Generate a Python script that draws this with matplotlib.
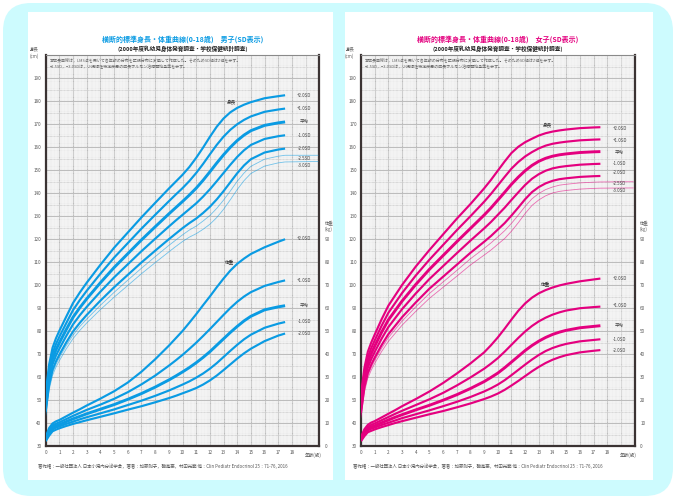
import matplotlib
matplotlib.use("Agg")
import matplotlib.pyplot as plt
from matplotlib.patches import FancyBboxPatch, Rectangle
from matplotlib.transforms import IdentityTransform

plt.rcParams['font.family'] = ['Noto Sans CJK JP', 'DejaVu Sans']

# ages (years) for all curves
ages = [0, 0.25, 0.5, 0.75, 1, 1.5, 2, 2.5, 3, 4, 5, 6, 7, 8, 9, 9.5, 10, 10.5, 11, 11.5, 12, 12.5,
        13, 13.5, 14, 14.5, 15, 16, 17, 17.5]
thin_ages = ages + [19.9]

# boys height (cm)
boy_h_p2 = [53.0, 65.4, 72.7, 76.8, 80.1, 86.2, 92.2, 96.8, 101.0, 108.8, 116.2, 122.8, 129.4, 135.7, 141.9, 144.9, 147.9, 151.3, 155.3, 159.7, 164.4, 168.8, 172.4, 175.1, 177.0, 178.4, 179.5, 181.2, 182.1, 182.5]
boy_h_p1 = [51.0, 63.2, 70.3, 74.3, 77.5, 83.4, 89.1, 93.5, 97.5, 104.9, 111.9, 118.2, 124.5, 130.5, 136.4, 139.3, 142.1, 145.2, 148.7, 152.6, 156.8, 160.9, 164.5, 167.5, 169.9, 171.8, 173.3, 175.3, 176.3, 176.7]
boy_h_0 = [49.0, 61.0, 67.9, 71.8, 74.9, 80.6, 86.0, 90.2, 94.0, 101.0, 107.6, 113.6, 119.6, 125.3, 130.9, 133.6, 136.3, 139.1, 142.1, 145.5, 149.2, 153.0, 156.6, 159.9, 162.8, 165.2, 167.1, 169.4, 170.5, 170.9]
boy_h_m1 = [47.0, 58.8, 65.5, 69.3, 72.3, 77.8, 82.9, 86.9, 90.5, 97.1, 103.3, 109.0, 114.7, 120.1, 125.4, 128.0, 130.5, 133.0, 135.5, 138.4, 141.6, 145.1, 148.7, 152.3, 155.7, 158.6, 160.9, 163.5, 164.7, 165.1]
boy_h_m2 = [45.0, 56.6, 63.1, 66.8, 69.7, 75.0, 79.8, 83.6, 87.0, 93.2, 99.0, 104.4, 109.8, 114.9, 119.9, 122.3, 124.7, 126.9, 128.9, 131.3, 134.0, 137.2, 140.8, 144.7, 148.6, 152.0, 154.7, 157.6, 158.9, 159.3]
boy_h_m25 = [44.0, 55.5, 61.9, 65.5, 68.4, 73.6, 78.2, 82.0, 85.2, 91.2, 96.8, 102.1, 107.3, 112.3, 117.2, 119.5, 121.8, 123.9, 125.6, 127.8, 130.2, 133.3, 136.9, 140.9, 145.1, 148.7, 151.6, 154.7, 156.0, 156.4, 156.4]
boy_h_m3 = [43.0, 54.4, 60.7, 64.3, 67.1, 72.2, 76.7, 80.3, 83.5, 89.3, 94.7, 99.8, 104.9, 109.7, 114.4, 116.7, 118.9, 120.8, 122.3, 124.2, 126.4, 129.3, 132.9, 137.1, 141.5, 145.4, 148.5, 151.7, 153.1, 153.5, 153.7]

# boys weight (kg)
boy_w_p2 = [4.0, 7.8, 9.8, 10.7, 11.3, 12.9, 14.5, 16.0, 17.6, 20.6, 23.8, 27.6, 32.3, 37.7, 43.6, 46.8, 50.0, 53.6, 57.3, 61.2, 65.0, 69.0, 72.8, 76.3, 79.2, 81.5, 83.5, 86.4, 88.8, 89.9]
boy_w_p1 = [3.5, 7.0, 8.9, 9.7, 10.3, 11.7, 13.1, 14.4, 15.7, 18.0, 20.5, 23.4, 26.8, 30.6, 34.9, 37.2, 39.6, 42.2, 44.9, 47.8, 50.8, 53.9, 57.0, 60.0, 62.7, 65.0, 66.9, 69.6, 71.3, 72.0]
boy_w_0 = [3.0, 6.2, 8.0, 8.8, 9.3, 10.6, 11.8, 12.9, 14.0, 16.0, 18.0, 20.3, 22.8, 25.6, 28.7, 30.4, 32.2, 34.1, 36.2, 38.5, 41.0, 43.8, 46.6, 49.4, 52.0, 54.4, 56.4, 59.2, 60.5, 61.0]
boy_w_m1 = [2.5, 5.3, 7.2, 8.0, 8.5, 9.6, 10.6, 11.6, 12.5, 14.2, 15.9, 17.8, 19.7, 21.8, 24.1, 25.4, 26.7, 28.1, 29.7, 31.5, 33.6, 36.0, 38.7, 41.4, 44.0, 46.4, 48.4, 51.4, 53.2, 53.9]
boy_w_m2 = [2.1, 4.5, 6.4, 7.1, 7.7, 8.7, 9.6, 10.4, 11.2, 12.7, 14.2, 15.8, 17.3, 19.0, 20.8, 21.8, 22.9, 24.0, 25.2, 26.7, 28.5, 30.6, 33.0, 35.5, 38.0, 40.3, 42.3, 45.6, 48.0, 48.9]

# girls height (cm)
girl_h_p2 = [52.5, 64.0, 71.0, 75.0, 78.4, 85.0, 91.0, 95.5, 100.0, 108.0, 115.2, 122.0, 128.8, 135.2, 142.0, 145.7, 149.7, 153.7, 157.4, 160.1, 162.1, 163.6, 165.0, 166.0, 166.7, 167.2, 167.6, 168.2, 168.5, 168.6]
girl_h_p1 = [50.5, 61.9, 68.7, 72.6, 75.9, 82.2, 87.9, 92.2, 96.5, 104.1, 111.0, 117.4, 123.8, 129.9, 136.2, 139.6, 143.3, 147.0, 150.6, 153.5, 155.9, 157.8, 159.4, 160.6, 161.4, 161.9, 162.3, 162.9, 163.2, 163.3]
girl_h_0 = [48.5, 59.8, 66.4, 70.2, 73.4, 79.4, 84.8, 88.9, 93.0, 100.2, 106.8, 112.8, 118.8, 124.6, 130.4, 133.5, 136.9, 140.3, 143.8, 146.9, 149.7, 152.0, 153.8, 155.1, 156.0, 156.6, 157.0, 157.6, 157.9, 158.0]
girl_h_m1 = [46.5, 57.7, 64.1, 67.8, 70.9, 76.6, 81.7, 85.6, 89.5, 96.3, 102.6, 108.2, 113.8, 119.3, 124.6, 127.4, 130.5, 133.6, 137.0, 140.3, 143.5, 146.2, 148.2, 149.7, 150.7, 151.3, 151.7, 152.3, 152.6, 152.7]
girl_h_m2 = [44.5, 55.6, 61.8, 65.4, 68.4, 73.8, 78.6, 82.3, 86.0, 92.4, 98.4, 103.6, 108.8, 114.0, 118.8, 121.3, 124.1, 126.9, 130.2, 133.7, 137.3, 140.4, 142.6, 144.2, 145.3, 146.0, 146.4, 147.0, 147.3, 147.4]
girl_h_m25 = [43.5, 54.6, 60.7, 64.2, 67.2, 72.4, 77.1, 80.7, 84.3, 90.5, 96.3, 101.3, 106.3, 111.4, 115.9, 118.3, 120.9, 123.6, 126.8, 130.4, 134.2, 137.5, 139.8, 141.5, 142.6, 143.4, 143.8, 144.4, 144.7, 144.8, 144.9]
girl_h_m3 = [42.5, 53.5, 59.5, 63.0, 65.9, 71.0, 75.5, 79.0, 82.5, 88.5, 94.2, 99.0, 103.8, 108.7, 113.0, 115.2, 117.7, 120.2, 123.4, 127.1, 131.1, 134.6, 137.0, 138.8, 140.0, 140.7, 141.1, 141.7, 142.0, 142.1, 142.2]

# girls weight (kg)
girl_w_p2 = [3.9, 7.3, 9.2, 10.2, 10.8, 12.4, 14.0, 15.6, 17.3, 20.4, 23.7, 27.4, 31.5, 35.9, 40.7, 43.8, 47.2, 51.0, 55.0, 58.8, 62.0, 64.5, 66.4, 67.8, 68.9, 69.8, 70.5, 71.6, 72.4, 72.8]
girl_w_p1 = [3.4, 6.6, 8.4, 9.2, 9.8, 11.2, 12.6, 14.0, 15.3, 17.8, 20.3, 23.1, 26.3, 29.8, 33.6, 35.8, 38.2, 41.0, 44.0, 47.0, 49.8, 52.2, 54.2, 55.8, 57.1, 58.1, 58.9, 59.9, 60.4, 60.6]
girl_w_0 = [3.0, 5.8, 7.5, 8.3, 8.8, 10.1, 11.3, 12.5, 13.6, 15.7, 17.7, 19.9, 22.3, 25.0, 28.0, 29.8, 31.7, 34.0, 36.5, 39.0, 41.5, 43.7, 45.6, 47.2, 48.5, 49.5, 50.3, 51.4, 52.0, 52.3]
girl_w_m1 = [2.5, 5.0, 6.8, 7.5, 8.0, 9.1, 10.1, 11.1, 12.1, 13.8, 15.5, 17.3, 19.2, 21.3, 23.7, 25.1, 26.7, 28.6, 30.8, 33.1, 35.4, 37.6, 39.6, 41.3, 42.6, 43.6, 44.4, 45.5, 46.1, 46.4]
girl_w_m2 = [2.1, 4.3, 6.0, 6.6, 7.2, 8.2, 9.1, 10.0, 10.8, 12.3, 13.8, 15.2, 16.8, 18.5, 20.4, 21.5, 22.8, 24.4, 26.3, 28.3, 30.4, 32.5, 34.4, 36.1, 37.5, 38.6, 39.5, 40.7, 41.4, 41.7]

sd_names = ['+2.0SD', '+1.0SD', '平均', '-1.0SD', '-2.0SD']
boy_h_lab = [182.6, 176.8, 171.3, 165.2, 159.4, 155.0, 152.0]
boy_w_lab = [90.4, 71.9, 60.9, 54.2, 48.7]
girl_h_lab = [168.2, 162.9, 157.7, 152.9, 148.8, 144.3, 141.0]
girl_w_lab = [72.9, 61.0, 52.2, 46.4, 41.7]

W, H = 676, 499
fig = plt.figure(figsize=(W / 100, H / 100), dpi=100)
fig.patch.set_facecolor('white')

# rounded cyan background and white panels (pixel coords, origin bottom-left)
fig.patches.append(FancyBboxPatch((3, 3), W - 6, H - 6, boxstyle='round,pad=0,rounding_size=28',
                                  transform=IdentityTransform(), facecolor='#cdfbfe', edgecolor='none', zorder=-10))
for x0, x1 in [(28, 333), (345, 653)]:
    fig.patches.append(Rectangle((x0, H - 480), x1 - x0, 468, transform=IdentityTransform(),
                                 facecolor='white', edgecolor='none', zorder=-9))


def panel(x0, color, title, hcurves, thin, wcurves, hlab, wlab, hpos, wpos):
    ytop, ybot = 55, 446
    ax = fig.add_axes([x0 / W, 1 - ybot / H, 273.6 / W, (ybot - ytop) / H])
    ax.set_xlim(0, 20)
    ax.set_ylim(30, 200)
    ax.set_facecolor('#ececec')
    ax.set_xticks(range(0, 19))
    ax.set_yticks(range(30, 200, 10))
    ax.set_xticks([i * 0.25 for i in range(81)], minor=True)
    ax.set_yticks(range(30, 201), minor=True)
    ax.grid(which='minor', color='white', lw=0.35)
    ax.grid(which='major', color='#bcbcbc', lw=0.7)
    ax.set_axisbelow(True)
    # the grid also needs 5 cm and 19-20 year lines
    for y in range(35, 200, 10):
        ax.axhline(y, color='#c8c8c8', lw=0.6, zorder=0.5)
    for x in [19, 20]:
        ax.axvline(x, color='#bcbcbc', lw=0.7, zorder=0.5)
    ax.tick_params(which='both', length=0, labelsize=3.3, labelcolor='#555555', pad=3)
    for s in ['left', 'bottom', 'right']:
        ax.spines[s].set_color('#3b3333')
        ax.spines[s].set_linewidth(1.6)
    ax.spines['top'].set_color('#8a8a8a')
    ax.spines['top'].set_linewidth(0.8)

    ax2 = ax.twinx()
    ax2.set_ylim(0, 170)
    ax2.set_yticks(range(0, 100, 10))
    ax2.tick_params(length=0, labelsize=3.3, labelcolor='#555555', pad=4)
    for s in ax2.spines.values():
        s.set_visible(False)

    for i, c in enumerate(hcurves):
        ax.plot(ages, c, color=color, lw=2.1 if i == 2 else 1.55, solid_capstyle='butt',
                solid_joinstyle='round', zorder=3)
    for c in thin:
        ax.plot(thin_ages, c, color=color, lw=0.6, alpha=0.55, zorder=3)
    for i, c in enumerate(wcurves):
        ax2.plot(ages, c, color=color, lw=2.1 if i == 2 else 1.55, solid_capstyle='butt',
                 solid_joinstyle='round', zorder=3)

    names = sd_names + ['-2.5SD', '-3.0SD']
    for name, y in zip(names, hlab):
        ax.text(18.9, y, name, fontsize=3.2, ha='center', va='center', color='#444444')
    for name, y in zip(sd_names, wlab):
        ax2.text(18.9, y, name, fontsize=3.2, ha='center', va='center', color='#444444')
    ax.text(hpos[0], hpos[1], '身長', fontsize=3.3, ha='center', va='center', color='#333333')
    ax2.text(wpos[0], wpos[1], '体重', fontsize=3.3, ha='center', va='center', color='#333333')

    ax.text(0.3, 198.5, '本成長曲線は，LMS法を用いて各年齢の分布を正規分布に変換して作成した。そのためSD値はZ値を示す。\n'
            '−2.5SD，−3.0SDは，小児慢性特定疾患の成長ホルモン治療開始基準を示す。',
            fontsize=2.9, ha='left', va='top', color='#666666', linespacing=1.3)
    ax.text(-0.5, 201, '身長\n(cm)', fontsize=3.2, ha='right', va='center', color='#666666',
            linespacing=1.3, clip_on=False)
    ax2.text(20.4, 93, '体重\n(kg)', fontsize=3.2, ha='left', va='bottom', color='#666666',
             linespacing=1.3, clip_on=False)
    ax.text(19.55, 27.2, '年齢(歳)', fontsize=3.3, ha='center', va='top', color='#555555', clip_on=False)

    cx = (x0 + 137) / W
    fig.text(cx, 1 - 39 / H, title, fontsize=5.0, fontweight='bold', color=color, ha='center', va='center')
    fig.text(cx, 1 - 49.3 / H, '(2000年度乳幼児身体発育調査・学校保健統計調査)', fontsize=4.1,
             fontweight='bold', color='#222222', ha='center', va='center')
    fig.text((x0 - 8) / W, 1 - 466 / H,
             '著作権：一般社団法人 日本小児内分泌学会，著者：加藤則子，磯島豪，村田光範 他：Clin Pediatr Endocrinol 25：71-76, 2016',
             fontsize=3.2, color='#555555', ha='left', va='center')


panel(45.7, '#0a9be3', '横断的標準身長・体重曲線(0-18歳)　男子(SD表示)',
      [boy_h_p2, boy_h_p1, boy_h_0, boy_h_m1, boy_h_m2], [boy_h_m25, boy_h_m3],
      [boy_w_p2, boy_w_p1, boy_w_0, boy_w_m1, boy_w_m2], boy_h_lab, boy_w_lab,
      (13.55, 179.5), (13.4, 80.3))
panel(361, '#e4007f', '横断的標準身長・体重曲線(0-18歳)　女子(SD表示)',
      [girl_h_p2, girl_h_p1, girl_h_0, girl_h_m1, girl_h_m2], [girl_h_m25, girl_h_m3],
      [girl_w_p2, girl_w_p1, girl_w_0, girl_w_m1, girl_w_m2], girl_h_lab, girl_w_lab,
      (13.6, 169.5), (13.5, 70.6))

fig.savefig('out.png', dpi=100, facecolor='white')
